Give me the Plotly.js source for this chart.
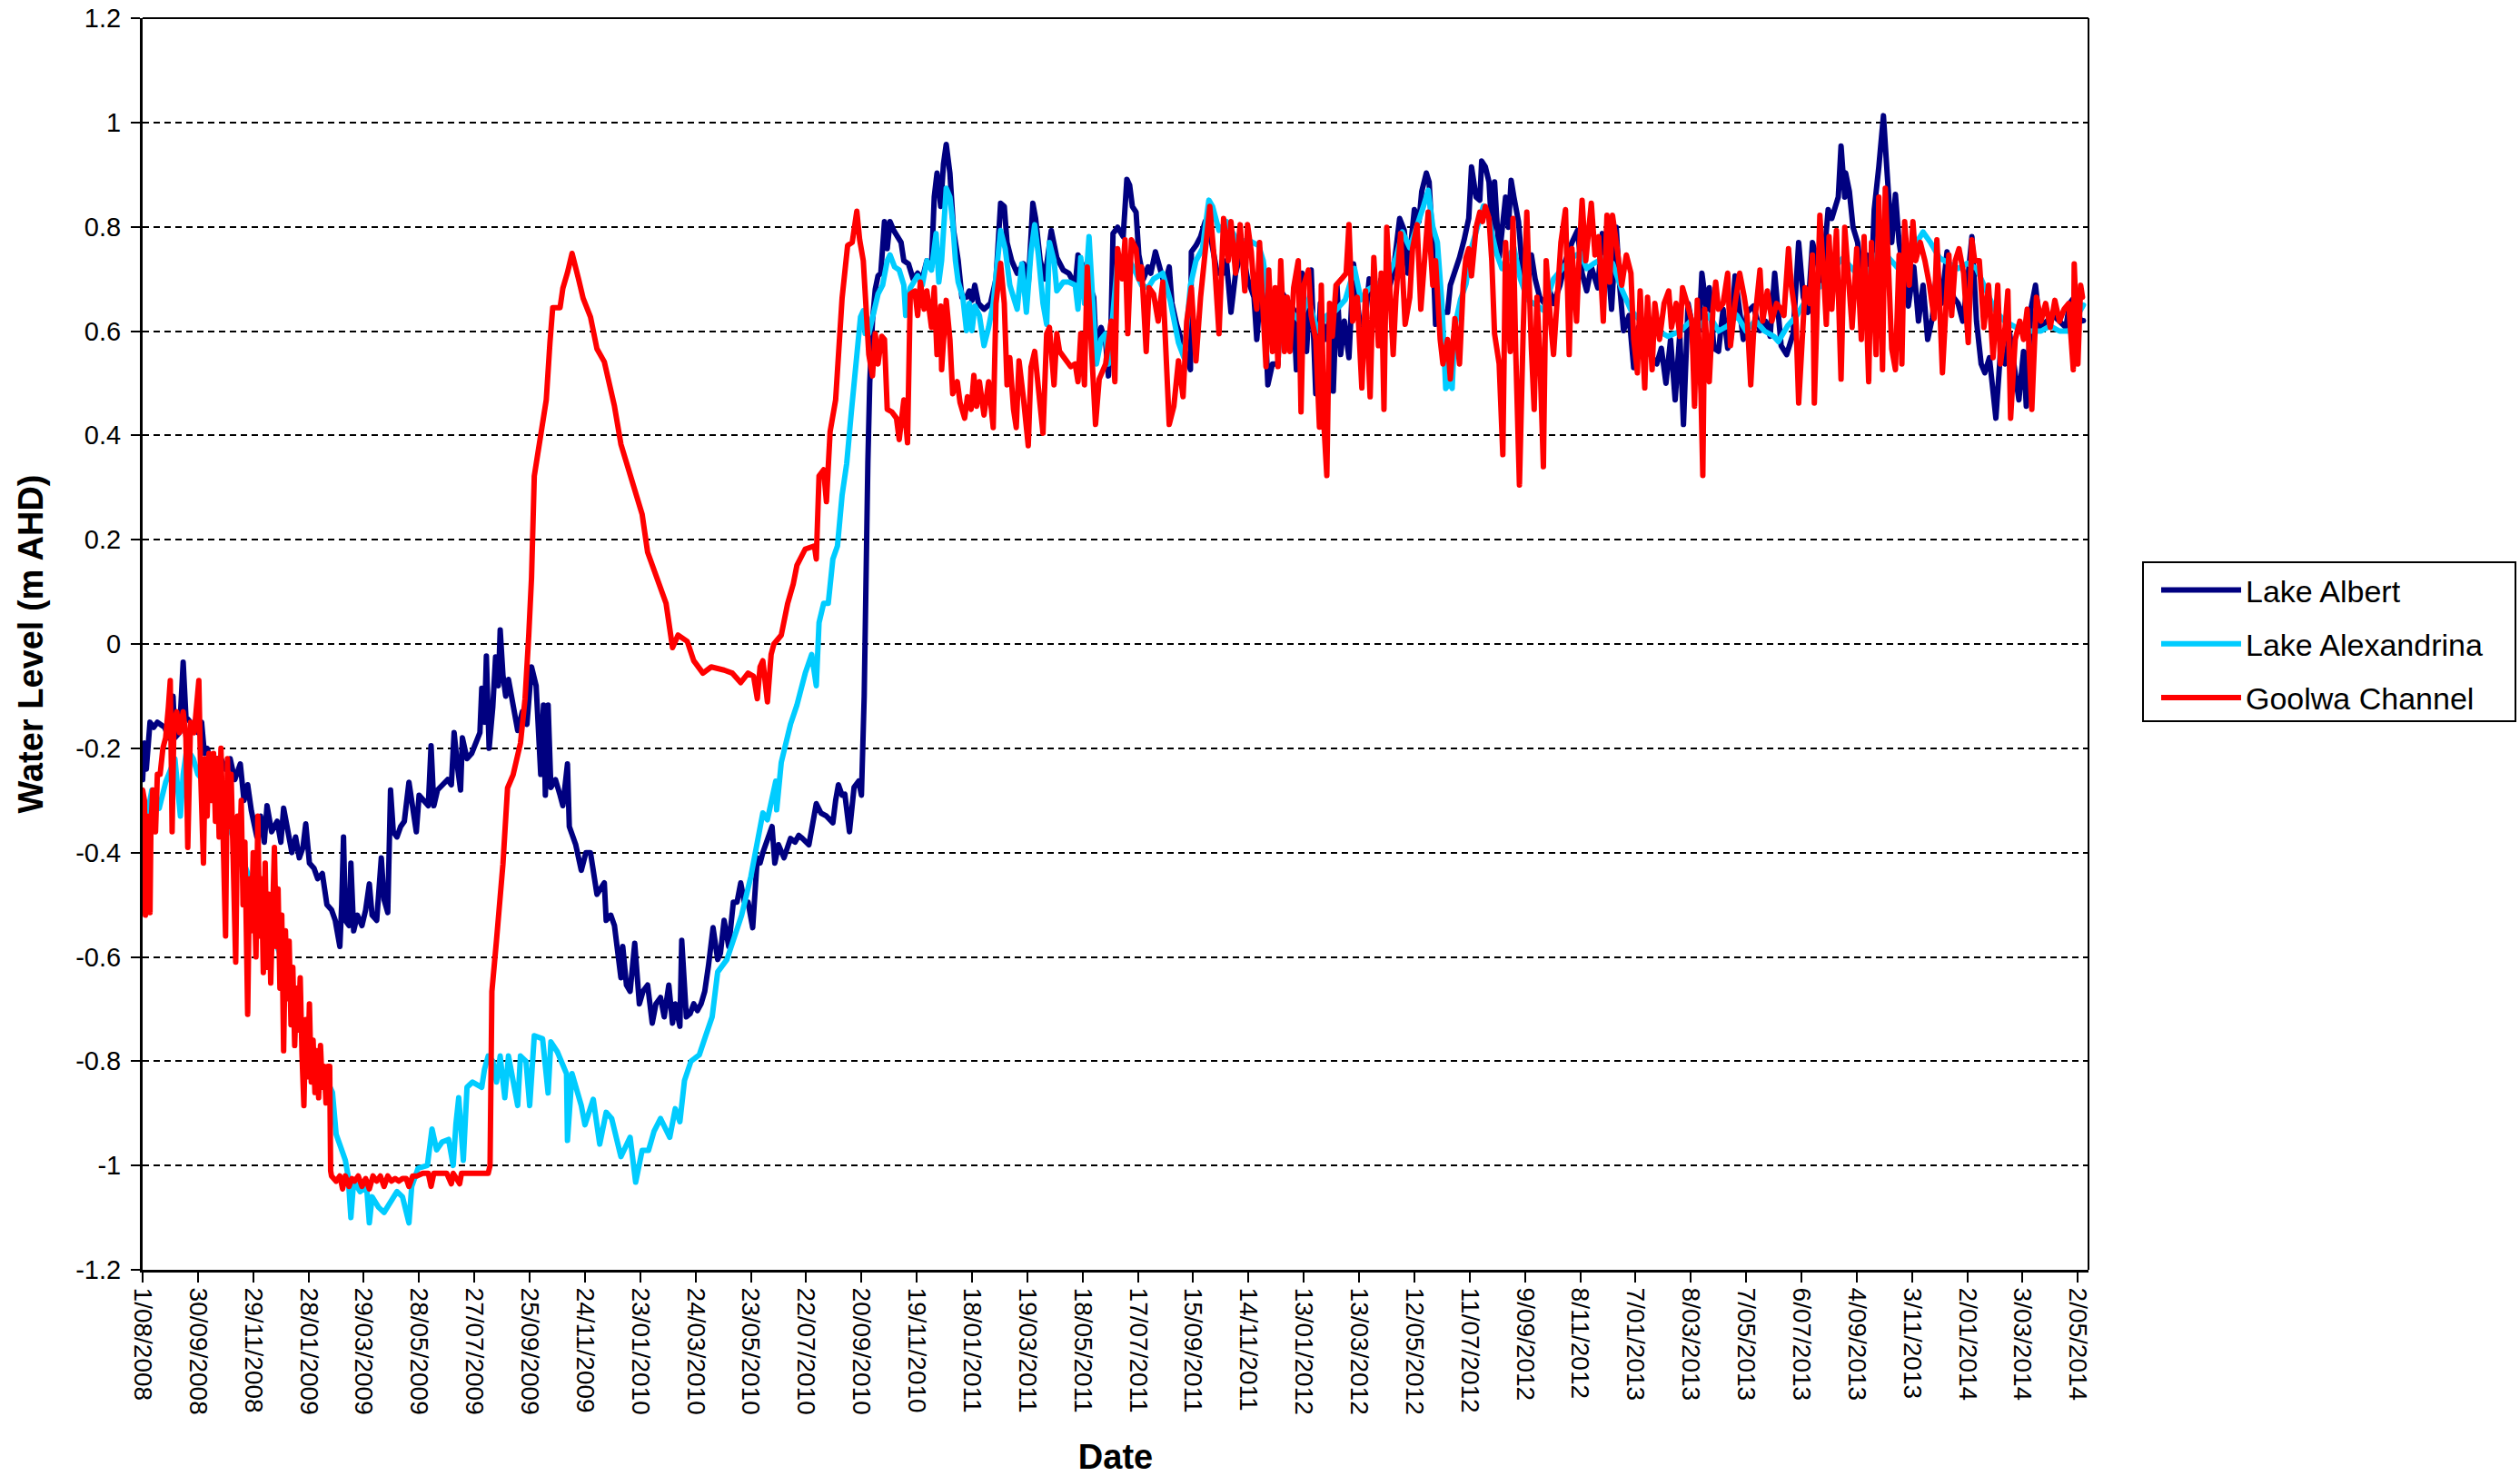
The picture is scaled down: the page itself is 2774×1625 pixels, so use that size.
<!DOCTYPE html>
<html><head><meta charset="utf-8">
<script src="https://cdn.plot.ly/plotly-3.0.1.min.js"></script>
<style>
html,body{margin:0;padding:0;background:#fff;}
#chart{width:2774px;height:1625px;}
.scatterlayer path.js-line{stroke-linejoin:round;stroke-linecap:round;}
</style></head><body><div id="chart"></div>
<script>
// Day offsets are counted from 1 August 2008; values are water level in m AHD.
const START_DATE = '2008-08-01';
const seriesNames = ['Lake Albert', 'Lake Alexandrina', 'Goolwa Channel'];

const albert = [[0,-0.26],[2,-0.19],[4,-0.24],[6,-0.17],[8,-0.15],[12,-0.16],[16,-0.15],[20,-0.155],[24,-0.16],[28,-0.18],[30,-0.15],[33,-0.10],[35,-0.18],[40,-0.17],[44,-0.035],[47,-0.14],[52,-0.15],[56,-0.16],[60,-0.17],[64,-0.15],[67,-0.21],[70,-0.20],[75,-0.23],[80,-0.22],[85,-0.22],[90,-0.24],[95,-0.22],[100,-0.26],[106,-0.23],[110,-0.30],[114,-0.27],[118,-0.32],[124,-0.37],[128,-0.33],[132,-0.38],[135,-0.31],[140,-0.36],[146,-0.34],[150,-0.38],[153,-0.315],[157,-0.36],[162,-0.40],[166,-0.37],[170,-0.41],[174,-0.39],[177,-0.345],[181,-0.42],[186,-0.43],[190,-0.45],[195,-0.44],[200,-0.50],[205,-0.51],[209,-0.53],[214,-0.58],[216,-0.50],[218,-0.37],[220,-0.53],[224,-0.54],[226,-0.42],[229,-0.55],[233,-0.52],[238,-0.54],[242,-0.51],[246,-0.46],[249,-0.52],[254,-0.53],[259,-0.41],[262,-0.49],[266,-0.515],[269,-0.28],[272,-0.36],[276,-0.37],[280,-0.35],[284,-0.34],[289,-0.265],[293,-0.32],[297,-0.36],[300,-0.29],[305,-0.30],[310,-0.31],[313,-0.195],[316,-0.31],[320,-0.28],[326,-0.27],[331,-0.26],[335,-0.27],[338,-0.17],[342,-0.24],[345,-0.28],[347,-0.18],[352,-0.22],[357,-0.21],[362,-0.19],[366,-0.17],[368,-0.085],[371,-0.15],[373,-0.023],[376,-0.20],[380,-0.12],[383,-0.025],[386,-0.08],[388,0.027],[391,-0.06],[394,-0.10],[397,-0.068],[403,-0.13],[407,-0.166],[412,-0.13],[417,-0.154],[422,-0.044],[427,-0.08],[432,-0.25],[435,-0.117],[437,-0.29],[440,-0.117],[443,-0.275],[448,-0.26],[453,-0.29],[456,-0.31],[461,-0.23],[463,-0.35],[470,-0.385],[476,-0.434],[481,-0.40],[486,-0.40],[493,-0.48],[501,-0.458],[503,-0.53],[508,-0.52],[512,-0.54],[519,-0.64],[521,-0.58],[525,-0.654],[529,-0.666],[534,-0.574],[539,-0.69],[543,-0.666],[548,-0.654],[553,-0.727],[557,-0.69],[562,-0.678],[566,-0.715],[571,-0.654],[575,-0.727],[578,-0.69],[583,-0.733],[585,-0.568],[590,-0.715],[594,-0.709],[598,-0.69],[602,-0.703],[606,-0.69],[610,-0.666],[614,-0.617],[619,-0.544],[624,-0.605],[627,-0.593],[631,-0.53],[636,-0.58],[641,-0.495],[645,-0.495],[649,-0.458],[653,-0.495],[657,-0.495],[662,-0.544],[667,-0.41],[670,-0.42],[673,-0.40],[678,-0.373],[683,-0.35],[686,-0.42],[690,-0.385],[696,-0.41],[700,-0.385],[703,-0.373],[708,-0.38],[712,-0.367],[716,-0.373],[720,-0.38],[723,-0.385],[731,-0.306],[736,-0.324],[742,-0.33],[749,-0.343],[752,-0.30],[755,-0.27],[759,-0.29],[762,-0.288],[767,-0.36],[770,-0.29],[772,-0.275],[777,-0.263],[780,-0.29],[783,-0.10],[785,0.20],[787,0.35],[789,0.50],[792,0.62],[795,0.68],[798,0.706],[801,0.711],[805,0.81],[808,0.758],[811,0.81],[815,0.793],[820,0.775],[823,0.77],[826,0.735],[831,0.729],[836,0.70],[841,0.711],[846,0.70],[851,0.735],[856,0.723],[859,0.857],[862,0.903],[866,0.839],[869,0.92],[872,0.958],[876,0.903],[880,0.793],[885,0.735],[889,0.665],[894,0.665],[897,0.677],[900,0.659],[903,0.688],[907,0.653],[913,0.642],[920,0.653],[926,0.70],[931,0.845],[935,0.839],[938,0.77],[943,0.735],[949,0.711],[956,0.729],[961,0.688],[966,0.845],[969,0.816],[974,0.735],[979,0.70],[986,0.793],[992,0.741],[999,0.717],[1005,0.711],[1012,0.688],[1015,0.746],[1018,0.735],[1025,0.70],[1032,0.665],[1035,0.555],[1040,0.607],[1045,0.578],[1048,0.514],[1051,0.625],[1053,0.787],[1058,0.799],[1064,0.781],[1068,0.891],[1071,0.88],[1074,0.839],[1078,0.828],[1081,0.746],[1086,0.70],[1091,0.723],[1094,0.711],[1099,0.752],[1104,0.723],[1109,0.688],[1114,0.723],[1117,0.653],[1122,0.613],[1127,0.584],[1132,0.561],[1137,0.526],[1138,0.752],[1143,0.764],[1148,0.781],[1153,0.81],[1160,0.77],[1166,0.711],[1173,0.711],[1176,0.735],[1181,0.636],[1186,0.711],[1193,0.758],[1199,0.70],[1206,0.665],[1209,0.584],[1212,0.653],[1216,0.706],[1221,0.497],[1226,0.537],[1232,0.537],[1235,0.677],[1242,0.659],[1249,0.642],[1252,0.526],[1258,0.711],[1263,0.561],[1268,0.717],[1273,0.48],[1278,0.653],[1283,0.584],[1288,0.619],[1292,0.485],[1296,0.688],[1300,0.555],[1304,0.619],[1309,0.549],[1314,0.729],[1319,0.642],[1324,0.572],[1331,0.70],[1337,0.653],[1344,0.70],[1350,0.665],[1357,0.711],[1364,0.816],[1369,0.793],[1373,0.711],[1380,0.833],[1385,0.81],[1388,0.868],[1393,0.903],[1396,0.886],[1400,0.758],[1403,0.613],[1406,0.653],[1411,0.636],[1416,0.636],[1419,0.688],[1424,0.711],[1429,0.741],[1434,0.775],[1439,0.816],[1442,0.915],[1447,0.857],[1451,0.851],[1453,0.926],[1457,0.915],[1461,0.886],[1464,0.793],[1467,0.886],[1472,0.741],[1479,0.857],[1482,0.799],[1485,0.889],[1488,0.857],[1493,0.81],[1498,0.70],[1503,0.711],[1507,0.746],[1511,0.70],[1516,0.665],[1521,0.653],[1526,0.683],[1531,0.653],[1538,0.688],[1544,0.735],[1551,0.77],[1557,0.793],[1562,0.711],[1567,0.677],[1572,0.723],[1579,0.683],[1584,0.787],[1589,0.752],[1594,0.642],[1599,0.799],[1603,0.683],[1607,0.601],[1613,0.63],[1618,0.53],[1623,0.607],[1630,0.578],[1636,0.555],[1643,0.537],[1648,0.567],[1653,0.50],[1658,0.584],[1663,0.468],[1668,0.595],[1672,0.421],[1677,0.653],[1682,0.607],[1689,0.601],[1692,0.711],[1697,0.642],[1700,0.683],[1705,0.567],[1710,0.561],[1715,0.642],[1720,0.567],[1723,0.578],[1728,0.706],[1732,0.653],[1737,0.584],[1741,0.636],[1748,0.648],[1755,0.601],[1761,0.619],[1766,0.59],[1771,0.711],[1778,0.572],[1784,0.555],[1791,0.595],[1797,0.77],[1802,0.665],[1807,0.636],[1812,0.77],[1817,0.735],[1822,0.688],[1829,0.833],[1833,0.816],[1837,0.839],[1840,0.857],[1843,0.955],[1847,0.857],[1848,0.903],[1852,0.868],[1856,0.799],[1861,0.77],[1866,0.688],[1871,0.746],[1876,0.70],[1879,0.833],[1884,0.915],[1889,1.013],[1893,0.903],[1898,0.77],[1902,0.862],[1906,0.77],[1911,0.711],[1916,0.648],[1922,0.723],[1927,0.619],[1932,0.688],[1937,0.584],[1942,0.625],[1947,0.717],[1952,0.653],[1958,0.752],[1965,0.665],[1970,0.653],[1975,0.619],[1980,0.688],[1985,0.781],[1990,0.619],[1995,0.537],[1999,0.52],[2004,0.549],[2011,0.433],[2016,0.561],[2021,0.537],[2026,0.595],[2031,0.537],[2036,0.468],[2041,0.561],[2044,0.456],[2049,0.642],[2054,0.688],[2059,0.607],[2067,0.619],[2073,0.63],[2080,0.619],[2087,0.607],[2091,0.653],[2096,0.665],[2103,0.619],[2106,0.62]];

const alexandrina = [[0,-0.30],[5,-0.33],[10,-0.28],[15,-0.30],[18,-0.315],[25,-0.265],[30,-0.24],[35,-0.22],[41,-0.33],[44,-0.25],[48,-0.20],[55,-0.22],[60,-0.25],[70,-0.27],[80,-0.30],[90,-0.33],[100,-0.38],[110,-0.42],[120,-0.47],[130,-0.50],[140,-0.55],[150,-0.60],[160,-0.66],[170,-0.72],[180,-0.76],[190,-0.80],[200,-0.84],[206,-0.86],[210,-0.94],[216,-0.97],[220,-0.99],[223,-1.02],[226,-1.10],[229,-1.03],[236,-1.05],[243,-1.04],[246,-1.11],[249,-1.06],[256,-1.08],[262,-1.09],[269,-1.07],[276,-1.05],[282,-1.06],[289,-1.11],[292,-1.04],[299,-1.005],[309,-1.0],[314,-0.93],[319,-0.97],[325,-0.955],[332,-0.95],[337,-1.0],[340,-0.92],[343,-0.87],[348,-0.99],[352,-0.85],[358,-0.84],[368,-0.85],[371,-0.815],[375,-0.79],[380,-0.80],[384,-0.84],[388,-0.79],[393,-0.87],[397,-0.79],[404,-0.86],[407,-0.885],[410,-0.79],[416,-0.80],[420,-0.885],[425,-0.751],[434,-0.757],[440,-0.861],[443,-0.763],[450,-0.782],[460,-0.824],[461,-0.952],[466,-0.824],[476,-0.885],[480,-0.922],[489,-0.873],[496,-0.959],[503,-0.898],[509,-0.91],[519,-0.983],[529,-0.946],[535,-1.032],[542,-0.971],[549,-0.971],[555,-0.934],[562,-0.91],[572,-0.946],[578,-0.891],[583,-0.916],[588,-0.837],[595,-0.80],[604,-0.788],[611,-0.751],[618,-0.715],[624,-0.629],[634,-0.605],[641,-0.568],[650,-0.52],[660,-0.446],[667,-0.373],[673,-0.324],[678,-0.337],[687,-0.263],[688,-0.318],[693,-0.227],[703,-0.154],[710,-0.117],[719,-0.056],[726,-0.02],[731,-0.08],[734,0.041],[739,0.078],[744,0.078],[749,0.163],[754,0.188],[759,0.285],[764,0.346],[769,0.444],[774,0.529],[779,0.627],[782,0.639],[784,0.595],[788,0.595],[795,0.642],[798,0.671],[803,0.688],[808,0.735],[811,0.746],[816,0.723],[821,0.717],[826,0.688],[828,0.63],[833,0.683],[841,0.706],[846,0.688],[851,0.735],[856,0.717],[861,0.787],[864,0.694],[867,0.735],[872,0.874],[876,0.857],[879,0.81],[882,0.735],[885,0.694],[890,0.665],[894,0.601],[897,0.653],[900,0.601],[903,0.648],[908,0.63],[913,0.572],[918,0.607],[923,0.653],[928,0.735],[931,0.793],[936,0.758],[941,0.688],[946,0.659],[949,0.642],[954,0.729],[959,0.636],[964,0.752],[968,0.804],[972,0.746],[977,0.653],[981,0.613],[984,0.77],[989,0.735],[992,0.677],[999,0.694],[1005,0.694],[1012,0.688],[1015,0.642],[1018,0.741],[1022,0.653],[1027,0.781],[1030,0.683],[1035,0.537],[1040,0.584],[1045,0.595],[1048,0.537],[1053,0.653],[1058,0.735],[1064,0.735],[1071,0.735],[1078,0.711],[1084,0.688],[1091,0.683],[1097,0.70],[1107,0.711],[1115,0.659],[1124,0.578],[1130,0.549],[1137,0.688],[1143,0.735],[1150,0.758],[1157,0.851],[1161,0.839],[1168,0.793],[1176,0.81],[1183,0.787],[1189,0.77],[1199,0.775],[1211,0.764],[1216,0.735],[1222,0.653],[1226,0.62],[1235,0.66],[1245,0.64],[1255,0.62],[1265,0.66],[1275,0.60],[1285,0.63],[1295,0.64],[1305,0.66],[1315,0.72],[1322,0.66],[1330,0.68],[1340,0.69],[1350,0.70],[1360,0.74],[1367,0.79],[1375,0.76],[1383,0.80],[1390,0.84],[1395,0.87],[1400,0.80],[1405,0.77],[1410,0.65],[1414,0.49],[1418,0.50],[1421,0.49],[1424,0.61],[1430,0.66],[1436,0.69],[1442,0.76],[1448,0.80],[1455,0.84],[1460,0.82],[1465,0.78],[1469,0.75],[1475,0.72],[1482,0.74],[1488,0.76],[1495,0.70],[1503,0.66],[1512,0.65],[1520,0.64],[1531,0.70],[1540,0.72],[1550,0.74],[1560,0.75],[1567,0.72],[1575,0.73],[1585,0.74],[1595,0.73],[1605,0.68],[1615,0.64],[1625,0.62],[1635,0.60],[1645,0.60],[1655,0.59],[1669,0.60],[1680,0.62],[1690,0.61],[1700,0.63],[1710,0.60],[1720,0.61],[1730,0.63],[1740,0.60],[1750,0.62],[1760,0.60],[1770,0.59],[1775,0.58],[1785,0.61],[1795,0.63],[1805,0.66],[1815,0.68],[1825,0.69],[1835,0.72],[1845,0.74],[1855,0.72],[1865,0.70],[1875,0.72],[1885,0.76],[1895,0.74],[1905,0.72],[1915,0.73],[1925,0.77],[1932,0.79],[1940,0.77],[1950,0.74],[1960,0.73],[1970,0.72],[1980,0.73],[1990,0.72],[2000,0.68],[2010,0.64],[2020,0.62],[2030,0.61],[2040,0.60],[2050,0.60],[2060,0.60],[2070,0.61],[2080,0.60],[2090,0.60],[2100,0.63],[2106,0.65]];

const goolwa = [[0,-0.28],[2,-0.30],[3,-0.52],[5,-0.33],[8,-0.515],[9,-0.35],[11,-0.28],[14,-0.36],[16,-0.25],[19,-0.25],[22,-0.20],[25,-0.18],[28,-0.12],[30,-0.07],[32,-0.36],[34,-0.15],[37,-0.13],[40,-0.17],[44,-0.13],[47,-0.18],[49,-0.39],[52,-0.15],[56,-0.17],[61,-0.07],[63,-0.25],[66,-0.42],[68,-0.22],[70,-0.33],[72,-0.21],[75,-0.30],[77,-0.21],[79,-0.34],[81,-0.22],[83,-0.37],[85,-0.20],[88,-0.42],[90,-0.56],[92,-0.22],[94,-0.35],[96,-0.25],[99,-0.45],[101,-0.61],[103,-0.33],[105,-0.42],[107,-0.30],[109,-0.50],[111,-0.38],[114,-0.71],[116,-0.45],[118,-0.55],[120,-0.40],[123,-0.60],[125,-0.33],[127,-0.56],[129,-0.45],[131,-0.63],[133,-0.42],[135,-0.62],[137,-0.48],[139,-0.65],[141,-0.52],[143,-0.39],[145,-0.58],[147,-0.47],[149,-0.66],[151,-0.52],[153,-0.78],[155,-0.55],[157,-0.68],[159,-0.57],[161,-0.73],[163,-0.62],[165,-0.77],[167,-0.66],[169,-0.74],[171,-0.64],[173,-0.79],[175,-0.885],[177,-0.72],[179,-0.83],[181,-0.69],[183,-0.84],[185,-0.76],[187,-0.86],[189,-0.78],[191,-0.87],[193,-0.77],[195,-0.85],[197,-0.81],[199,-0.88],[201,-0.81],[203,-0.81],[204,-1.01],[205,-1.02],[210,-1.03],[214,-1.02],[217,-1.045],[220,-1.02],[224,-1.04],[227,-1.025],[230,-1.03],[234,-1.02],[238,-1.04],[242,-1.025],[246,-1.045],[250,-1.02],[254,-1.03],[258,-1.02],[262,-1.04],[266,-1.02],[270,-1.03],[274,-1.025],[278,-1.03],[282,-1.025],[286,-1.025],[289,-1.04],[293,-1.02],[298,-1.02],[304,-1.015],[310,-1.015],[313,-1.04],[316,-1.015],[322,-1.015],[330,-1.015],[335,-1.035],[337,-1.015],[344,-1.035],[346,-1.015],[355,-1.015],[365,-1.015],[375,-1.015],[377,-1.0],[379,-0.666],[384,-0.568],[391,-0.422],[396,-0.276],[402,-0.251],[410,-0.19],[415,-0.105],[419,0.017],[422,0.127],[425,0.322],[430,0.383],[435,0.444],[438,0.468],[442,0.578],[445,0.645],[453,0.645],[456,0.682],[461,0.712],[466,0.749],[473,0.70],[478,0.663],[486,0.627],[493,0.566],[501,0.541],[506,0.505],[512,0.456],[519,0.383],[529,0.322],[535,0.285],[542,0.249],[548,0.176],[558,0.127],[568,0.078],[575,-0.007],[581,0.017],[591,0.005],[598,-0.032],[608,-0.056],[617,-0.044],[631,-0.05],[640,-0.056],[649,-0.074],[657,-0.056],[663,-0.062],[667,-0.105],[670,-0.044],[673,-0.032],[678,-0.111],[682,-0.02],[685,0.0],[693,0.017],[700,0.078],[706,0.115],[710,0.151],[719,0.182],[729,0.188],[731,0.163],[734,0.322],[739,0.334],[742,0.273],[746,0.407],[752,0.468],[759,0.663],[765,0.764],[770,0.77],[775,0.83],[778,0.776],[782,0.735],[785,0.642],[788,0.555],[792,0.514],[795,0.595],[798,0.537],[802,0.59],[805,0.584],[808,0.45],[813,0.445],[818,0.433],[821,0.392],[826,0.468],[830,0.386],[833,0.671],[838,0.677],[841,0.63],[844,0.694],[848,0.642],[851,0.677],[856,0.607],[859,0.683],[862,0.555],[866,0.648],[867,0.526],[872,0.659],[876,0.584],[879,0.48],[884,0.503],[887,0.463],[892,0.433],[895,0.474],[899,0.45],[902,0.515],[905,0.456],[908,0.503],[913,0.439],[918,0.503],[923,0.415],[926,0.653],[931,0.73],[935,0.653],[938,0.497],[941,0.549],[945,0.45],[948,0.415],[951,0.543],[956,0.468],[961,0.38],[964,0.531],[968,0.561],[972,0.491],[977,0.404],[981,0.595],[984,0.607],[989,0.497],[992,0.595],[995,0.561],[1002,0.543],[1007,0.532],[1012,0.537],[1015,0.503],[1018,0.595],[1022,0.497],[1025,0.723],[1028,0.625],[1032,0.52],[1034,0.421],[1038,0.508],[1045,0.537],[1051,0.619],[1055,0.503],[1058,0.758],[1063,0.70],[1066,0.775],[1069,0.595],[1073,0.775],[1078,0.758],[1081,0.70],[1084,0.723],[1089,0.561],[1092,0.683],[1097,0.671],[1102,0.619],[1107,0.694],[1110,0.567],[1114,0.421],[1119,0.456],[1124,0.543],[1129,0.474],[1133,0.619],[1138,0.683],[1143,0.543],[1148,0.665],[1153,0.758],[1158,0.839],[1163,0.735],[1168,0.595],[1173,0.816],[1178,0.735],[1181,0.81],[1186,0.711],[1191,0.804],[1196,0.677],[1199,0.804],[1203,0.752],[1206,0.68],[1209,0.642],[1212,0.77],[1216,0.607],[1219,0.532],[1222,0.717],[1226,0.561],[1229,0.683],[1232,0.532],[1235,0.735],[1239,0.561],[1242,0.665],[1245,0.561],[1249,0.683],[1254,0.735],[1257,0.445],[1260,0.688],[1265,0.717],[1268,0.63],[1273,0.584],[1277,0.416],[1279,0.688],[1282,0.416],[1285,0.323],[1288,0.653],[1291,0.59],[1295,0.688],[1301,0.70],[1306,0.711],[1309,0.804],[1313,0.619],[1318,0.665],[1323,0.491],[1327,0.677],[1332,0.474],[1336,0.741],[1341,0.572],[1344,0.711],[1347,0.45],[1350,0.799],[1354,0.653],[1357,0.555],[1360,0.665],[1365,0.787],[1370,0.613],[1375,0.665],[1378,0.758],[1383,0.804],[1387,0.642],[1390,0.723],[1395,0.828],[1400,0.688],[1403,0.735],[1408,0.584],[1411,0.537],[1416,0.584],[1419,0.508],[1424,0.624],[1429,0.537],[1433,0.688],[1436,0.741],[1439,0.758],[1442,0.706],[1447,0.799],[1451,0.828],[1454,0.81],[1457,0.839],[1461,0.816],[1464,0.735],[1467,0.595],[1472,0.537],[1476,0.363],[1479,0.77],[1484,0.561],[1487,0.816],[1490,0.561],[1494,0.305],[1498,0.595],[1502,0.828],[1507,0.566],[1510,0.45],[1513,0.665],[1516,0.561],[1520,0.34],[1523,0.735],[1528,0.613],[1531,0.555],[1536,0.688],[1539,0.77],[1544,0.833],[1548,0.555],[1551,0.758],[1556,0.619],[1559,0.752],[1562,0.851],[1566,0.735],[1569,0.781],[1572,0.845],[1576,0.746],[1580,0.781],[1585,0.619],[1589,0.822],[1592,0.694],[1595,0.822],[1600,0.758],[1605,0.688],[1610,0.746],[1615,0.711],[1618,0.584],[1622,0.52],[1625,0.677],[1630,0.491],[1633,0.665],[1638,0.526],[1641,0.653],[1646,0.584],[1651,0.653],[1656,0.677],[1659,0.607],[1664,0.653],[1668,0.59],[1671,0.683],[1676,0.653],[1681,0.619],[1684,0.456],[1687,0.659],[1691,0.48],[1693,0.323],[1695,0.642],[1700,0.503],[1704,0.642],[1707,0.694],[1710,0.642],[1715,0.653],[1720,0.711],[1723,0.572],[1728,0.653],[1733,0.711],[1738,0.665],[1741,0.63],[1745,0.497],[1748,0.595],[1755,0.717],[1758,0.619],[1763,0.677],[1768,0.619],[1773,0.653],[1778,0.642],[1781,0.63],[1786,0.758],[1789,0.688],[1794,0.624],[1797,0.462],[1801,0.619],[1804,0.683],[1809,0.653],[1812,0.746],[1814,0.462],[1817,0.688],[1820,0.822],[1824,0.711],[1827,0.613],[1830,0.781],[1833,0.642],[1838,0.793],[1843,0.508],[1847,0.799],[1852,0.653],[1855,0.607],[1860,0.758],[1865,0.584],[1868,0.781],[1873,0.503],[1876,0.77],[1881,0.555],[1884,0.857],[1888,0.526],[1891,0.874],[1894,0.711],[1898,0.566],[1902,0.526],[1906,0.746],[1909,0.537],[1912,0.81],[1917,0.688],[1921,0.81],[1924,0.735],[1929,0.77],[1934,0.735],[1939,0.688],[1944,0.624],[1947,0.775],[1950,0.653],[1953,0.52],[1957,0.653],[1960,0.746],[1963,0.63],[1967,0.735],[1971,0.758],[1976,0.711],[1981,0.578],[1985,0.775],[1988,0.735],[1993,0.735],[1998,0.607],[2003,0.688],[2008,0.549],[2013,0.688],[2016,0.537],[2021,0.607],[2024,0.677],[2027,0.433],[2032,0.584],[2037,0.619],[2041,0.584],[2045,0.642],[2050,0.45],[2055,0.665],[2060,0.619],[2065,0.653],[2070,0.607],[2075,0.659],[2080,0.619],[2085,0.642],[2090,0.653],[2095,0.526],[2096,0.729],[2100,0.537],[2103,0.688],[2105,0.665]];

const yTickVals = [-1.2, -1, -0.8, -0.6, -0.4, -0.2, 0, 0.2, 0.4, 0.6, 0.8, 1, 1.2];
const yTickText = ['-1.2', '-1', '-0.8', '-0.6', '-0.4', '-0.2', '0', '0.2', '0.4', '0.6', '0.8', '1', '1.2'];
const xRange = ['2008-08-01', '2014-05-13 12:00'];
const seriesColors = ['#000080', '#00CCFF', '#FF0000'];

const DAY_MS = 86400000;
const startMs = Date.parse(START_DATE + 'T00:00:00Z');
function toDate(d) { return new Date(startMs + d * DAY_MS).toISOString().slice(0, 10); }

const FONT = 'Liberation Sans, Arial, Helvetica, sans-serif';
const allSeries = [albert, alexandrina, goolwa];
const traces = allSeries.map((s, i) => ({
  type: 'scatter', mode: 'lines', name: seriesNames[i],
  x: s.map(p => toDate(p[0])), y: s.map(p => p[1]),
  line: { color: seriesColors[i], width: 6 },
  legendgroup: 'g' + i, hoverinfo: 'x+y'
}));

// plot area: 157..2299 px horizontally, 20..1398 px vertically
const W = 2142, H = 1378, L = 157, T = 20;
const px = x => (x - L) / W;
const py = y => (T + H - y) / H;

const layout = {
  width: 2774, height: 1625,
  margin: { l: L, r: 2774 - L - W, t: T, b: 1625 - T - H, autoexpand: false },
  paper_bgcolor: '#fff', plot_bgcolor: '#fff',
  font: { family: FONT, color: '#000', size: 29 },
  showlegend: true,
  legend: {
    x: px(2374), y: py(621), xanchor: 'left', yanchor: 'top',
    borderwidth: 0, bgcolor: 'rgba(0,0,0,0)',
    font: { family: FONT, size: 34, color: '#000' },
    traceorder: 'grouped', tracegroupgap: 12, itemwidth: 88
  },
  xaxis: {
    type: 'date', range: xRange, tick0: '2008-08-01', dtick: 60 * DAY_MS,
    tickformat: '%-d/%m/%Y', tickangle: 90,
    showgrid: false, zeroline: false,
    showline: true, linecolor: '#000', linewidth: 3,
    ticks: 'outside', ticklen: 11, tickwidth: 2, tickcolor: '#000',
    tickfont: { family: FONT, size: 28, color: '#000' },
    title: { text: 'Date', font: { family: FONT, size: 38, weight: 'bold', color: '#000' }, standoff: 36 },
    automargin: false
  },
  yaxis: {
    range: [-1.2, 1.2], tickmode: 'array', tickvals: yTickVals, ticktext: yTickText,
    showgrid: true, gridcolor: '#000', gridwidth: 2, griddash: '7px,5px',
    zeroline: false,
    showline: true, linecolor: '#000', linewidth: 3,
    ticks: 'outside', ticklen: 10, tickwidth: 2, tickcolor: '#000',
    ticklabelstandoff: 5,
    tickfont: { family: FONT, size: 29, color: '#000' },
    title: { text: 'Water Level (m AHD)', font: { family: FONT, size: 38, weight: 'bold', color: '#000' }, standoff: 24 },
    automargin: false
  },
  shapes: [
    { type: 'line', xref: 'paper', yref: 'paper', x0: 1, x1: 1, y0: 0, y1: 1, line: { color: '#000', width: 2 } },
    { type: 'line', xref: 'paper', yref: 'paper', x0: 0, x1: 1, y0: 1, y1: 1, line: { color: '#000', width: 2 } },
    { type: 'rect', xref: 'paper', yref: 'paper', x0: px(2359), x1: px(2769), y0: py(794), y1: py(619), line: { color: '#000', width: 2 }, fillcolor: 'rgba(0,0,0,0)' }
  ]
};

Plotly.newPlot('chart', traces, layout, { displayModeBar: false, staticPlot: true });
</script></body></html>
